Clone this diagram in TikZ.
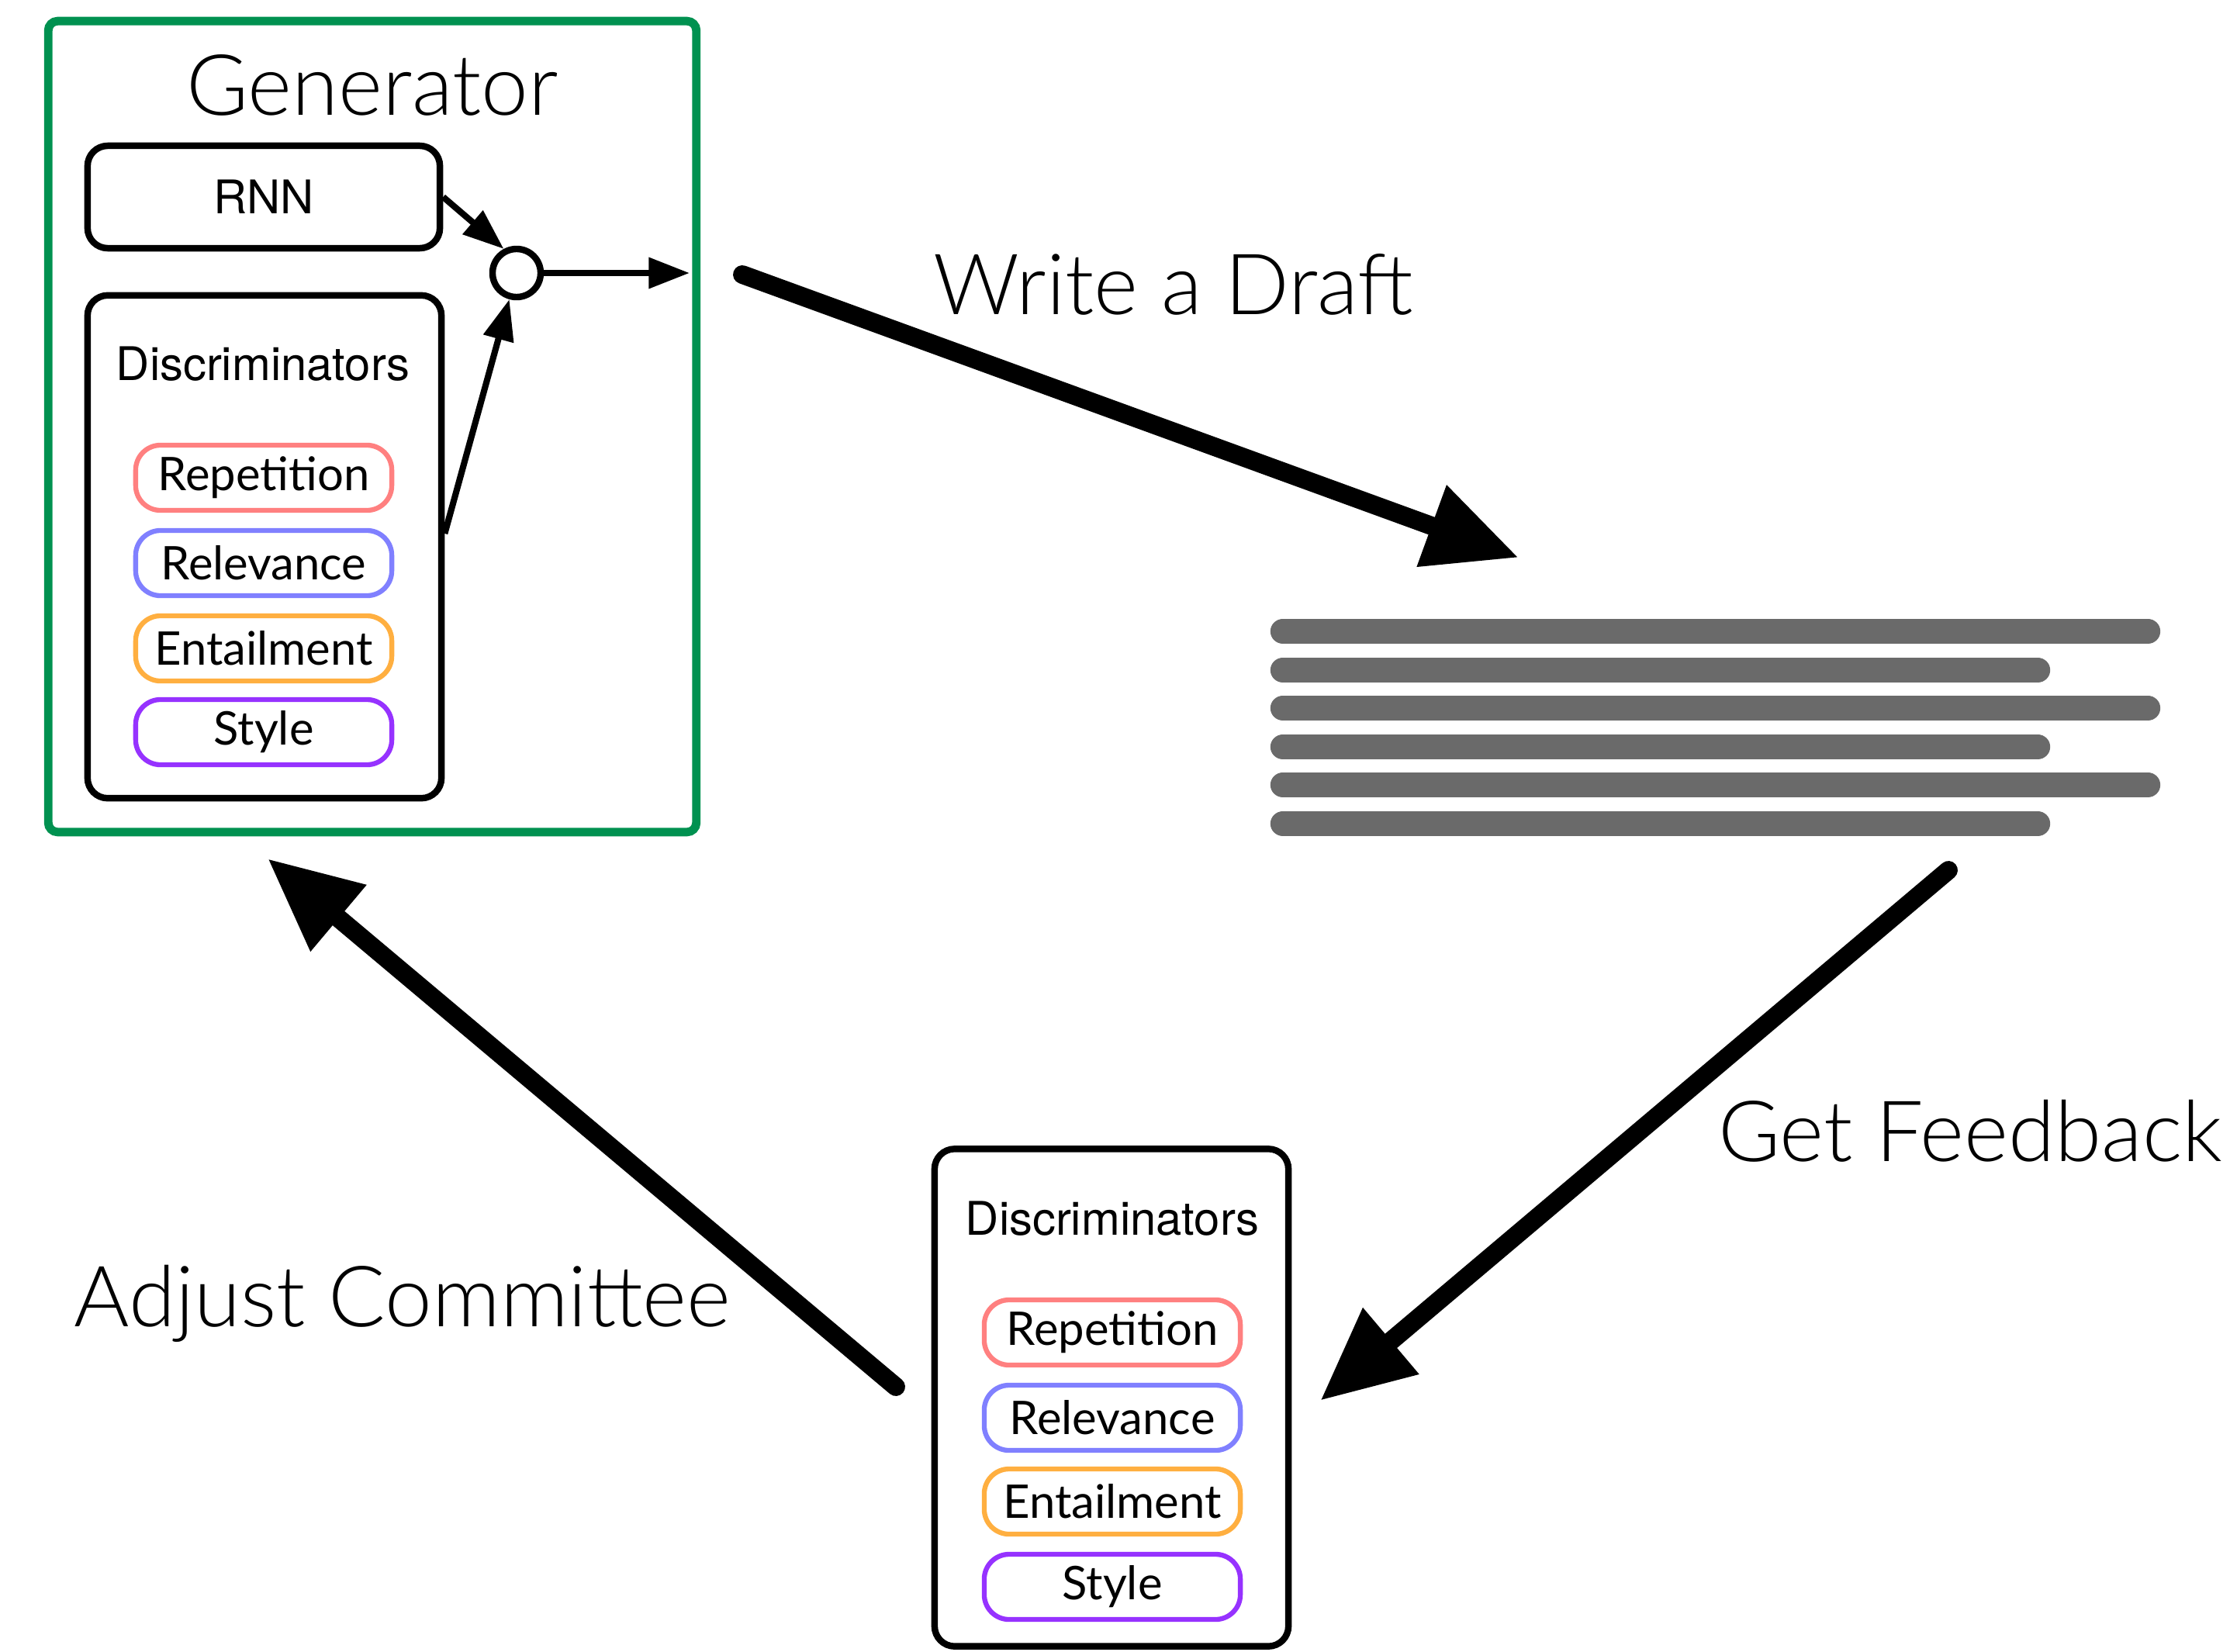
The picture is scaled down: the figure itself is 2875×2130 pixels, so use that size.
\documentclass[tikz,border=0pt]{standalone}
\usepackage{fontspec}
\setmainfont{Lato}
\newfontfamily\latolight{Lato Light}
\newfontfamily\helv{TeX Gyre Heros}
\usetikzlibrary{arrows.meta}
\definecolor{ggreen}{RGB}{0,145,80}
\definecolor{crep}{RGB}{255,128,128}
\definecolor{crel}{RGB}{128,128,255}
\definecolor{cent}{RGB}{255,175,64}
\definecolor{csty}{RGB}{150,50,255}
\definecolor{bargray}{RGB}{106,106,106}
\tikzset{
  blackbox/.style={draw=black, line width=2.4pt, rounded corners=0.26cm, inner sep=0pt},
  subbox/.style={draw=#1, line width=1.8pt, rounded corners=0.32cm, minimum width=3.3cm, minimum height=0.84cm, inner sep=0pt, font=\fontsize{17}{20}\selectfont},
  biglabel/.style={font=\latolight\fontsize{31}{36}\selectfont, inner sep=0pt},
  discl/.style={font=\helv\fontsize{17}{20}\selectfont, inner sep=0pt},
  smallarrow/.style={line width=2.3pt, -{Triangle[length=15pt, width=11pt]}},
  bigarrow/.style={line width=6.8pt, line cap=round, -{Triangle[length=34pt, width=30pt]}},
  bar/.style={line width=9.2pt, line cap=round, draw=bargray}
}
\begin{document}
\begin{tikzpicture}[x=0.01cm, y=-0.01cm]
\useasboundingbox (0,0) rectangle (2875,2130);
% Generator
\node[draw=ggreen, line width=3.1pt, rounded corners=0.12cm, minimum width=8.35cm, minimum height=10.45cm, inner sep=0pt] (gen) at (480,550) {};
\node[biglabel] (genl) at (480,110) {Generator};
\node[blackbox, minimum width=4.54cm, minimum height=1.32cm, font=\helv\fontsize{17}{20}\selectfont] (rnn) at (340,254) {RNN};
\node[blackbox, minimum width=4.56cm, minimum height=6.48cm] (disc1) at (341,705) {};
\node[discl] (disc1l) at (339,469) {Discriminators};
\node[subbox=crep] (rep1) at (340,616) {Repetition};
\node[subbox=crel] (rel1) at (340,726) {Relevance};
\node[subbox=cent] (ent1) at (340,836) {Entailment};
\node[subbox=csty] (sty1) at (340,944) {Style};
\node[draw=black, line width=2.4pt, circle, minimum size=0.62cm, inner sep=0pt] (circ) at (666,352) {};
\coordinate (out) at (889,352);
\draw[smallarrow] (rnn.east) -- (circ.118);
\draw[smallarrow] ([yshift=0.17cm]disc1.east) -- (circ);
\draw[smallarrow] (circ) -- (out);
% Write a Draft
\coordinate (wdS) at (957,354);
\coordinate (wdE) at (1958,719);
\draw[bigarrow] (wdS) -- (wdE);
\node[biglabel] (wdl) at (1513,367) {Write a Draft};
% draft lines
\draw[bar] (1654,814) -- (2769,814);
\draw[bar] (1654,864) -- (2627,864);
\draw[bar] (1654,913) -- (2769,913);
\draw[bar] (1654,963) -- (2627,963);
\draw[bar] (1654,1012) -- (2769,1012);
\draw[bar] (1654,1062) -- (2627,1062);
% Get Feedback
\coordinate (gfS) at (2512,1122);
\coordinate (gfE) at (1702,1806);
\draw[bigarrow] (gfS) -- (gfE);
\node[biglabel] (gfl) at (2540,1458) {Get Feedback};
% bottom discriminators
\node[blackbox, minimum width=4.56cm, minimum height=6.41cm] (disc2) at (1433,1802) {};
\node[discl] (disc2l) at (1434,1571) {Discriminators};
\node[subbox=crep] (rep2) at (1434,1718) {Repetition};
\node[subbox=crel] (rel2) at (1434,1828) {Relevance};
\node[subbox=cent] (ent2) at (1434,1936) {Entailment};
\node[subbox=csty] (sty2) at (1434,2046) {Style};
% Adjust Committee
\coordinate (acS) at (1155,1788);
\coordinate (acE) at (345,1107);
\draw[bigarrow] (acS) -- (acE);
\node[biglabel] (acl) at (519,1681) {Adjust Committee};
\end{tikzpicture}
\end{document}
